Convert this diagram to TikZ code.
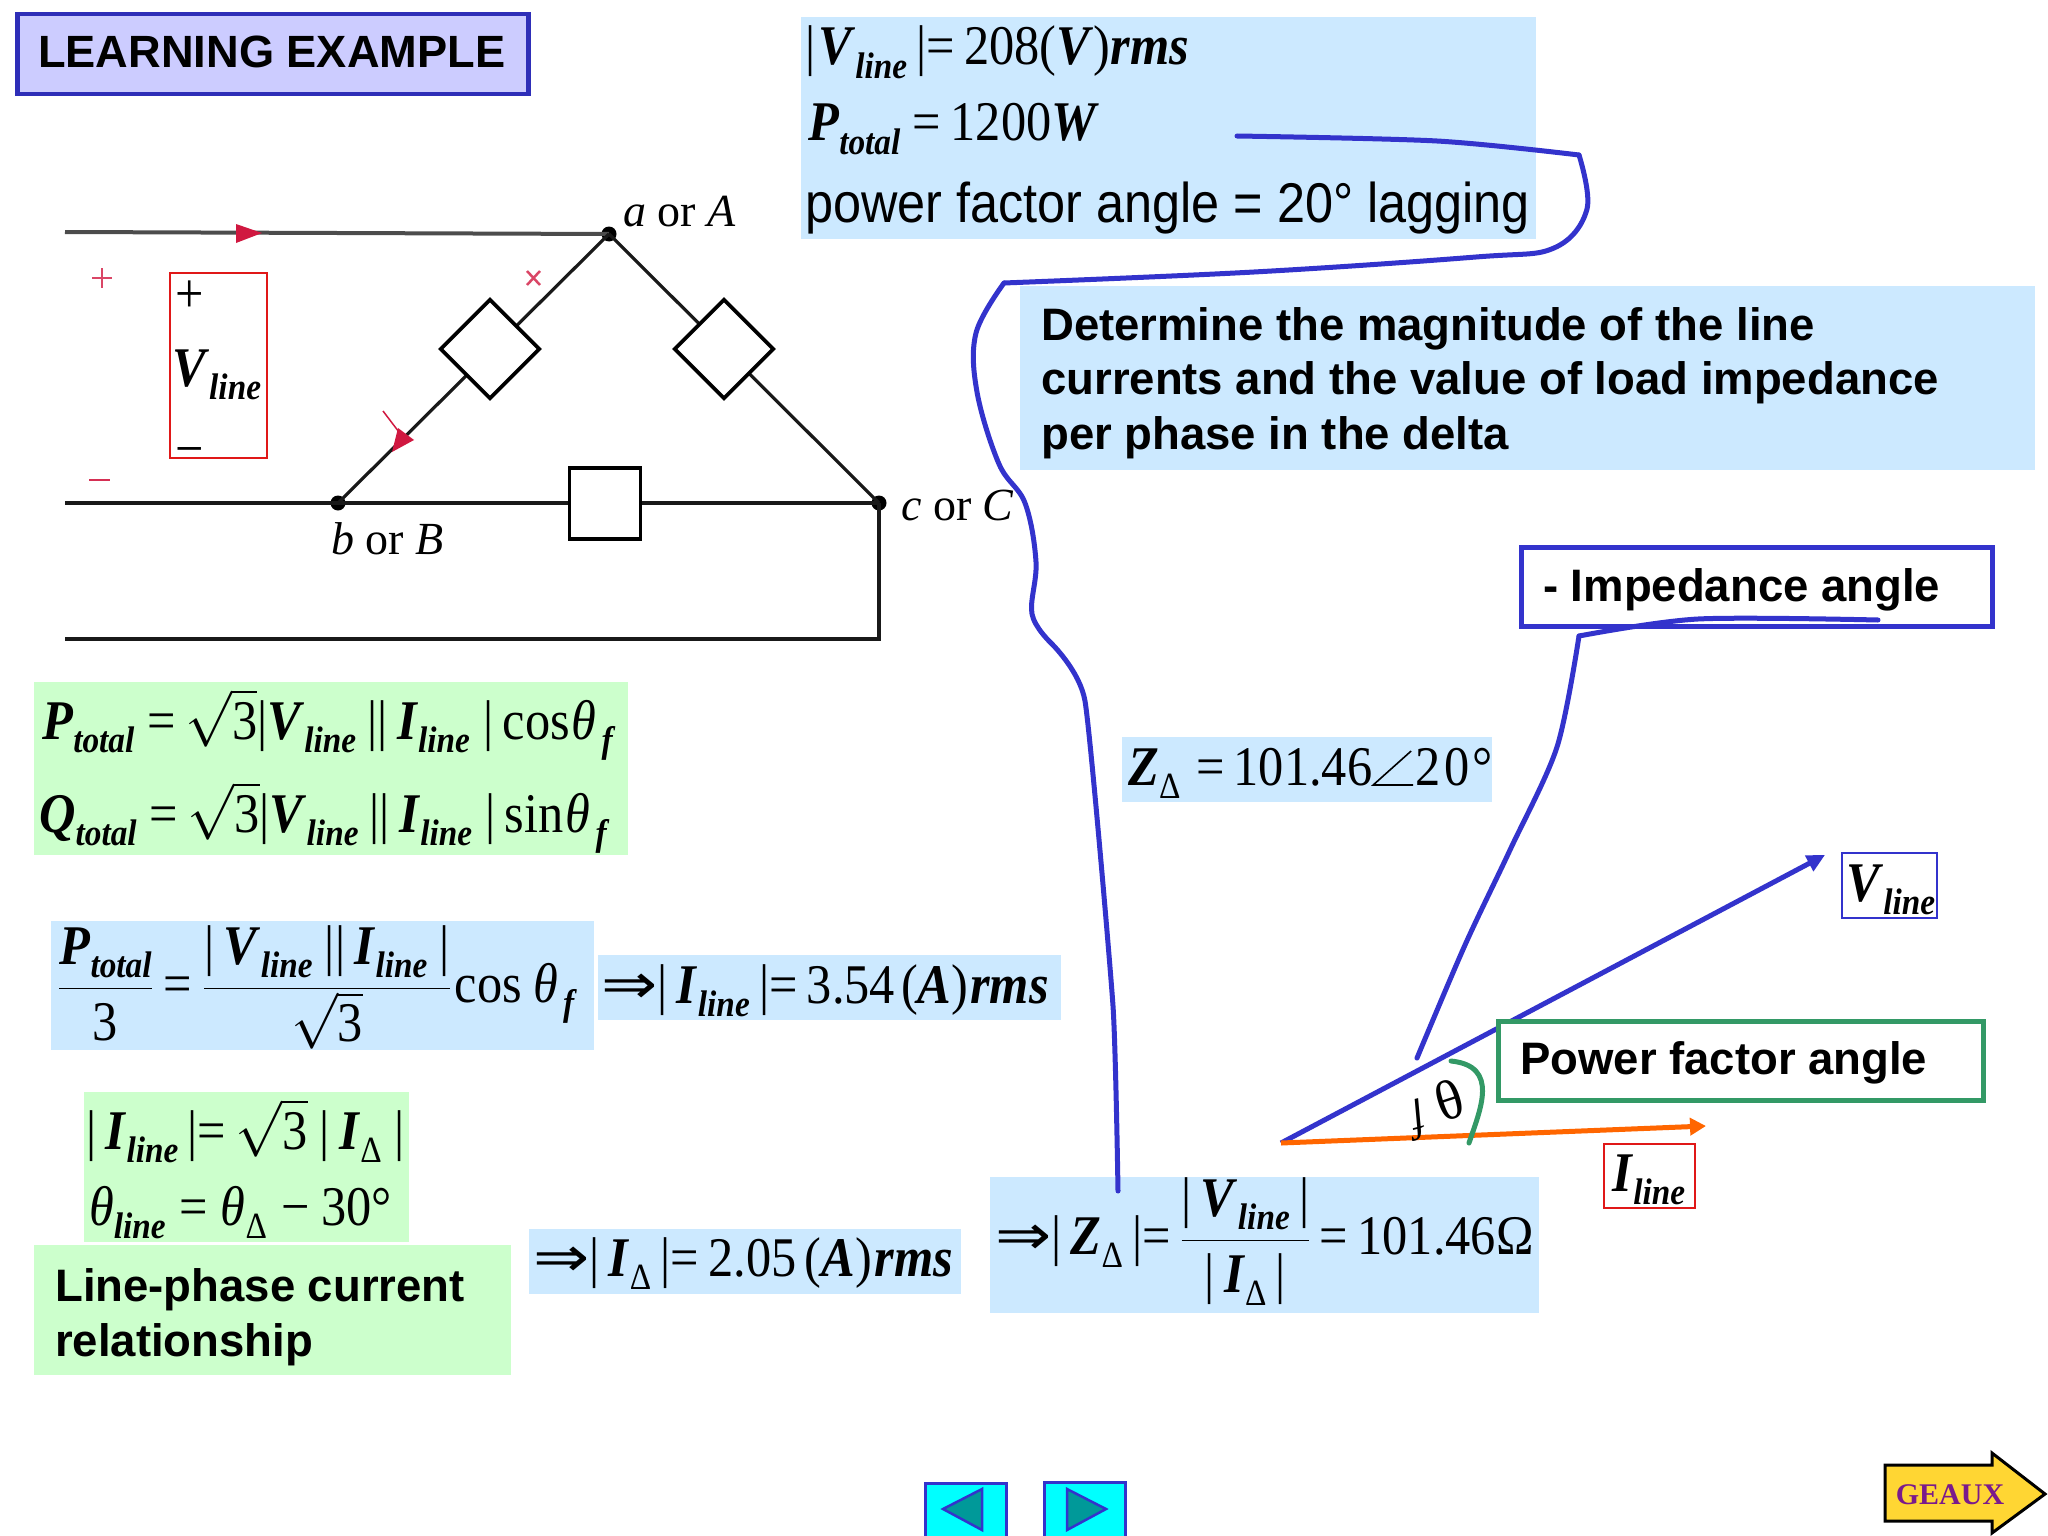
\RequirePackage{fix-cm}
\documentclass[tikz,border=0pt]{standalone}
\usepackage{amsmath}
\usepackage{fontspec}
\setmainfont{Liberation Serif}[FakeStretch=0.90]
\newfontfamily\lblfont{Liberation Serif}
\newfontfamily\ars{Liberation Sans}
\newfontfamily\arsn{Liberation Sans}[FakeStretch=0.90]
\newfontfamily\djw{DejaVu Sans}[FakeStretch=1.2]
\usetikzlibrary{arrows.meta,shapes.geometric}
\definecolor{bluefill}{HTML}{CCE9FF}
\definecolor{greenfill}{HTML}{CCFFCC}
\definecolor{lav}{HTML}{CCCCFF}
\definecolor{inkblue}{HTML}{3333CC}
\definecolor{penorange}{HTML}{FF6600}
\definecolor{pfgreen}{HTML}{339966}
\definecolor{wirered}{HTML}{D01840}
\definecolor{boxred}{HTML}{E01818}
\definecolor{gold}{HTML}{FFD633}
\definecolor{tealfill}{HTML}{009999}
\definecolor{navcyan}{HTML}{00FFFF}
\definecolor{geauxp}{HTML}{7A1A8C}
\newcommand\subfont{\fontsize{37}{37}\selectfont}
\newcommand\bi[1]{\textbf{\textit{#1}}}
\newcommand\Sb[1]{\raisebox{-0.24em}{\subfont\bi{#1}}}
\newcommand\Sr[1]{\raisebox{-0.24em}{\subfont #1}}
\newcommand\Sd{\Sr{Δ}}
\newcommand\Vl{\bi{V}\Sb{line}}
\newcommand\Il{\bi{I}\Sb{line}}
\newcommand\Pt{\bi{P}\Sb{total}}
\newcommand\Qt{\bi{Q}\Sb{total}}
\newcommand\thf{\textit{θ}\kern5pt\Sb{f}}
\newcommand\rtt{\(\sqrt{\hbox{3}}\)}
\newcommand\rimp{{\djw ⇒}}
\newcommand\angsym{\tikz[x=1pt,y=1pt,baseline=0pt]\draw[line width=1.6pt,line join=miter] (40,34) -- (2,0) -- (42,0);}
\newcommand\boxat[6]{\node[#2,anchor=north west,inner sep=0pt,minimum width={(#5-#3)*1pt},minimum height={(#6-#4)*1pt}] (#1) at (#3,#4) {};}
\tikzset{
  x=1pt,y=-1pt,
  blubox/.style={fill=bluefill},
  grnbox/.style={fill=greenfill},
  titlebox/.style={fill=lav,draw=inkblue!90!black,line width=4.5pt},
  impbox/.style={fill=white,draw=inkblue,line width=4.5pt},
  pfbox/.style={fill=white,draw=pfgreen,line width=5pt},
  redbox/.style={draw=boxred,line width=2pt},
  blubord/.style={draw=inkblue,line width=2pt},
  navbtn/.style={fill=navcyan,draw=inkblue,line width=3pt},
  tri/.style={fill=tealfill,draw=inkblue,line width=2.5pt,line join=miter},
  mathtxt/.style={anchor=base west,inner sep=0pt,font=\fontsize{56}{60}\selectfont},
  sanstxt/.style={anchor=base west,inner sep=0pt,font=\ars\bfseries\fontsize{45.5}{50}\selectfont},
  lbl/.style={anchor=base west,inner sep=0pt,font=\lblfont\fontsize{46}{50}\selectfont},
  wire/.style={line width=3.2pt,black!90},
  ink/.style={line width=5pt,inkblue,line join=round,line cap=round},
  dot/.style={circle,fill=black,inner sep=0pt,minimum size=15pt},
  loadbox/.style={fill=white,draw=black,line width=3.6pt,inner sep=0pt},
}
\begin{document}
\begin{tikzpicture}
\useasboundingbox (0,0) rectangle (2048,1536);
% --- title
\boxat{title}{titlebox}{15}{12}{526}{92}
\node[sanstxt,font=\ars\bfseries\fontsize{45.2}{50}\selectfont] (titletxt) at (38,68) {LEARNING EXAMPLE};
% --- circuit
\node[dot] (a) at (609,234) {};
\node[dot] (b) at (338,503) {};
\node[dot] (c) at (879,503) {};
\coordinate (tl) at (65,232);
\coordinate (ml) at (65,503);
\coordinate (bl) at (65,639);
\coordinate (br) at (879,639);
\draw[wire,line width=4pt,black!70] (tl) -- (a.center);
\draw[wire] (ml) -- (b.center) -- (c.center);
\draw[wire] (bl) -- (br) -- (c.center);
\draw[wire] (a.center) -- (b.center);
\draw[wire] (a.center) -- (c.center);
\node[loadbox,diamond,minimum width=100pt,minimum height=100pt] (z1) at (490,349) {};
\node[loadbox,diamond,minimum width=100pt,minimum height=100pt] (z2) at (724,349) {};
\node[loadbox,minimum width=71pt,minimum height=71pt] (z3) at (605,503.5) {};
\fill[wirered] (236,224) -- (262,233) -- (236,243) -- cycle;
\fill[wirered] (392,452) -- (398,428) -- (414,440) -- cycle;
\draw[wirered,line width=1.5pt] (383,411) -- (405,440);
\draw[wirered!80!white,line width=2.5pt] (92,278) -- (112,278) (102,268) -- (102,288);
\draw[wirered!90!white,line width=2.5pt] (89,480) -- (110,480);
\draw[wirered!80!white,line width=2.5pt] (527,271) -- (540,285) (540,271) -- (527,285);
\node[lbl] (labA) at (623,226) {\textit{a} or \textit{A}};
\node[lbl] (labB) at (331,554) {\textit{b} or \textit{B}};
\node[lbl] (labC) at (901,520) {\textit{c} or \textit{C}};
\boxat{vbox}{redbox}{169}{272}{266}{457}
\node[mathtxt] (vplus) at (175,312) {+};
\node[mathtxt] (vtxt) at (172,386) {\Vl};
\node[mathtxt] (vminus) at (175,467) {−};
% --- top given box
\boxat{given}{blubox}{801}{17}{1536}{239}
\node[mathtxt] (g1) at (805,65) {|\kern3pt\Vl\,|=\,208(\bi{V})\bi{rms}};
\node[mathtxt] (g2) at (808,141) {\Pt\ =\,1200\bi{W}};
\node[mathtxt,font=\arsn\fontsize{56}{60}\selectfont] (g3) at (805,222) {power factor angle = 20° lagging};
% --- determine box
\boxat{det}{blubox}{1020}{286}{2035}{470}
\node[sanstxt] (d1) at (1041,340) {Determine the magnitude of the line};
\node[sanstxt] (d2) at (1041,394) {currents and the value of load impedance};
\node[sanstxt] (d3) at (1041,449) {per phase in the delta};
% --- green P/Q
\boxat{pq}{grnbox}{34}{682}{628}{855}
\node[mathtxt] (p1) at (42,739) {\Pt\,\kern4pt=\,\rtt|\Vl\,\kern2pt||\,\Il\,\kern4pt|\,cos\kern2pt\thf};
\node[mathtxt] (p2) at (39,832) {\Qt\,\kern4pt=\,\rtt|\Vl\,\kern2pt||\,\Il\,\kern4pt|\,sin\kern2pt\thf};
% --- fraction row
\boxat{fr}{blubox}{51}{921}{594}{1050}
\node[mathtxt] (f1) at (58,1002) {\(\displaystyle\frac{\hbox{\Pt}}{\hbox{3}}\)\kern11pt=\kern11pt\(\displaystyle\frac{\hbox{|\,\Vl\,\kern3pt||\,\Il\,\kern3pt|}}{\sqrt{\hbox{3}}}\)\kern4pt cos\,\kern2pt\thf};
\boxat{il}{blubox}{598}{955}{1061}{1020}
\node[mathtxt] (f2) at (601,1003) {\rimp|\,\Il\,|=\,3.54\kern6pt(\bi{A})\kern2pt\bi{rms}};
% --- line-phase
\boxat{lp}{grnbox}{84}{1092}{409}{1242}
\node[mathtxt] (l1) at (86,1149) {|\,\Il\,|=\,\rtt\,\kern3pt|\,\bi{I}\Sd\kern3pt\,|};
\node[mathtxt] (l2) at (89,1225) {\textit{θ}\Sb{line}\kern4pt\,=\kern4pt\,\textit{θ}\Sd\kern5pt\,−\kern2pt\,30°};
\boxat{lpt}{grnbox}{34}{1245}{511}{1375}
\node[sanstxt] (lt1) at (55,1301) {Line-phase current};
\node[sanstxt] (lt2) at (55,1356) {relationship};
\boxat{id}{blubox}{529}{1229}{961}{1294}
\node[mathtxt] (i1) at (533,1276) {\rimp|\,\bi{I}\Sd\,|=\,2.05\kern8pt(\bi{A})\kern3pt\bi{rms}};
\boxat{zb}{blubox}{990}{1177}{1539}{1313}
\node[mathtxt] (z1t) at (995,1254) {\rimp|\,\bi{Z}\Sd\,|=\,\(\displaystyle\frac{\hbox{|\,\Vl\,|}}{\hbox{|\,\bi{I}\Sd\,|}}\)\,=\,101.46Ω};
\boxat{za}{blubox}{1122}{737}{1492}{802}
\node[mathtxt] (z2t) at (1128,785) {\bi{Z}\Sd\kern3pt\ =\,101.46\angsym\kern2pt 2\kern3pt 0\kern3pt°};
% --- impedance box
\boxat{imp}{impbox}{1519}{545}{1990}{624}
\node[sanstxt] (imptxt) at (1543,601) {- Impedance angle};
% --- hand-drawn pen strokes
\draw[ink] plot[smooth,tension=.5] coordinates {(1237,136) (1437,141) (1579,155)};
\draw[ink] plot[smooth,tension=.6] coordinates {(1579,155) (1587,209) (1554,248) (1476,257) (1254,272) (1004,283)};
\draw[ink] plot[smooth,tension=.6] coordinates {(1004,283) (976,333) (977,392) (999,464) (1025,503) (1036,562) (1032,614) (1051,643)};
\draw[ink] plot[smooth,tension=.3] coordinates {(1051,643) (1085,701) (1113,1006) (1118,1191)};
\draw[ink] plot[smooth,tension=.5] coordinates {(1878,620) (1698,619) (1579,636)};
\draw[ink] plot[smooth,tension=.5] coordinates {(1579,636) (1557,747) (1510,850) (1465,945) (1417,1058)};
% --- phasors
\coordinate (o) at (1281,1143);
\coordinate (vt) at (1825,855);
\coordinate (it) at (1706,1126);
\draw[line width=5pt,inkblue,-{Triangle[length=18pt,width=17pt]}] (o) -- (vt);
\draw[line width=5pt,penorange,-{Triangle[length=16pt,width=17pt]}] (o) -- (it);
\boxat{pf}{pfbox}{1496}{1019}{1981}{1098}
\node[sanstxt] (pftxt) at (1520,1074) {Power factor angle};
\draw[line width=5pt,pfgreen,line cap=round] (1451,1061) .. controls (1500,1066) and (1480,1110) .. (1469,1143);
\node[inner sep=0pt,rotate=18,font=\lblfont\fontsize{56}{60}\selectfont] (thetalbl) at (1449,1100) {θ};
\node[inner sep=0pt,rotate=195,font=\lblfont\fontsize{44}{50}\selectfont] (flbl) at (1416,1120) {\textit{f}};
\boxat{vlb}{blubord}{1841}{852}{1936}{917}
\node[mathtxt] (vlt) at (1846,901) {\Vl};
\boxat{ilb}{redbox}{1603}{1143}{1694}{1207}
\node[mathtxt] (ilt) at (1612,1191) {\Il};
% --- navigation
\boxat{prev}{navbtn}{924}{1482}{1005}{1536}
\draw[tri] (943,1509) -- (982,1489) -- (982,1530) -- cycle;
\boxat{next}{navbtn}{1043}{1481}{1124}{1536}
\draw[tri] (1106,1509) -- (1067,1489) -- (1067,1530) -- cycle;
\draw[fill=gold,draw=black,line width=3pt,line join=miter] (1885,1465) -- (1992,1465) -- (1992,1453) -- (2045,1494) -- (1992,1533) -- (1992,1521) -- (1885,1521) -- cycle;
\node[inner sep=0pt,font=\lblfont\bfseries\fontsize{30}{34}\selectfont,text=geauxp] (geaux) at (1950,1495) {GEAUX};
\end{tikzpicture}
\end{document}
